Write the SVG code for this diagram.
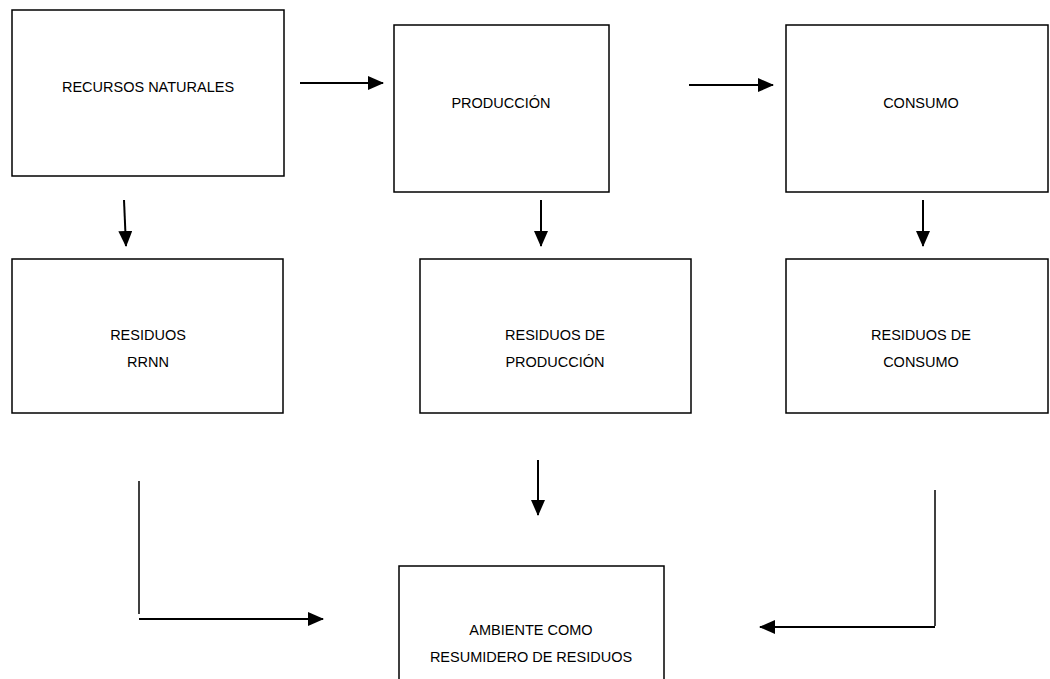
<svg xmlns="http://www.w3.org/2000/svg" width="1050" height="679" viewBox="0 0 1050 679">
<style>
.box{fill:#fff;stroke:#000;stroke-width:1.5}
.lbl{font-family:"Liberation Sans",Arial,sans-serif;font-size:14.5px;fill:#000;text-anchor:middle}
.con{fill:none;stroke:#000;stroke-width:2}
</style>
<defs>
<marker id="ahb" markerWidth="16" markerHeight="14" refX="15" refY="7" orient="auto" markerUnits="userSpaceOnUse" viewBox="0 0 16 14">
<path d="M0,0 L16,7 L0,14 Z" fill="#000"/>
</marker>
</defs>
<rect width="1050" height="679" fill="#fff"/>
<g id="recursos"><rect class="box" x="12" y="10" width="272" height="166"/><text class="lbl" x="148" y="92">RECURSOS NATURALES</text></g>
<g id="produccion"><rect class="box" x="394" y="25" width="215" height="167"/><text class="lbl" x="501" y="108">PRODUCCIÓN</text></g>
<g id="consumo"><rect class="box" x="786" y="25" width="262" height="167"/><text class="lbl" x="921" y="108">CONSUMO</text></g>
<g id="res_rrnn"><rect class="box" x="12" y="259" width="271" height="154"/><text class="lbl" x="148" y="340">RESIDUOS</text><text class="lbl" x="148" y="367">RRNN</text></g>
<g id="res_prod"><rect class="box" x="420" y="259" width="271" height="154"/><text class="lbl" x="555" y="340">RESIDUOS DE</text><text class="lbl" x="555" y="367">PRODUCCIÓN</text></g>
<g id="res_cons"><rect class="box" x="786" y="259" width="262" height="154"/><text class="lbl" x="921" y="340">RESIDUOS DE</text><text class="lbl" x="921" y="367">CONSUMO</text></g>
<g id="ambiente"><rect class="box" x="399" y="566" width="265" height="120"/><text class="lbl" x="531" y="635">AMBIENTE COMO</text><text class="lbl" x="531" y="662">RESUMIDERO DE RESIDUOS</text></g>
<g id="connectors">
<line class="con" x1="300" y1="83" x2="383" y2="83" marker-end="url(#ahb)"/>
<line class="con" x1="689" y1="85" x2="773" y2="85" marker-end="url(#ahb)"/>
<line class="con" x1="124" y1="200" x2="126" y2="246" marker-end="url(#ahb)"/>
<line class="con" x1="541" y1="200" x2="541" y2="246" marker-end="url(#ahb)"/>
<line class="con" x1="923" y1="200" x2="923" y2="246" marker-end="url(#ahb)"/>
<line class="con" x1="538" y1="460" x2="538" y2="515" marker-end="url(#ahb)"/>
<line class="con" x1="139" y1="481" x2="139" y2="614" style="stroke-width:1.5"/>
<line class="con" x1="139" y1="619" x2="323" y2="619" marker-end="url(#ahb)"/>
<line class="con" x1="935" y1="490" x2="935" y2="626" style="stroke-width:1.5"/>
<line class="con" x1="935" y1="627" x2="760" y2="627" marker-end="url(#ahb)"/>
</g>
</svg>
